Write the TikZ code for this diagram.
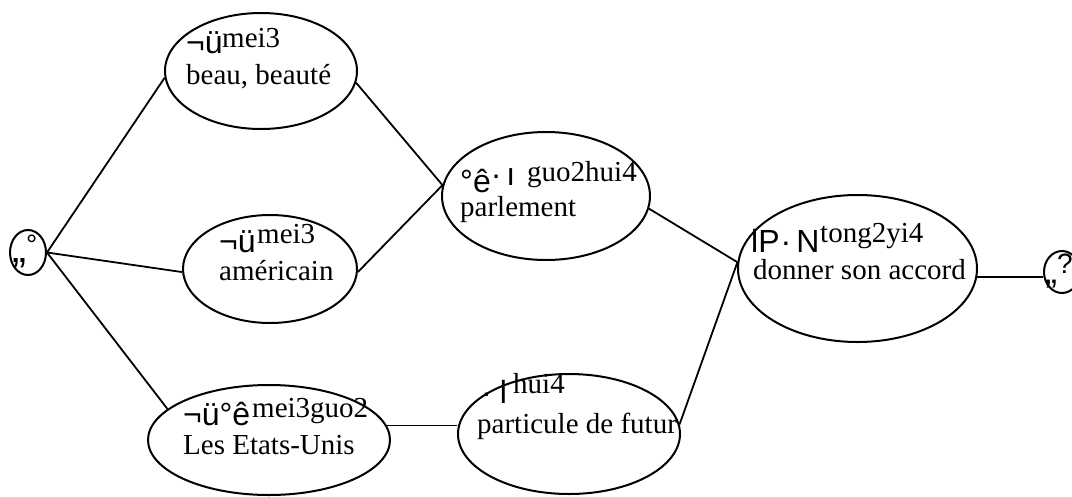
\documentclass[tikz,border=0pt]{standalone}
\usepackage{fontspec}
\setmainfont{Liberation Serif}
\newfontfamily\glyphfont{Liberation Sans}
\usetikzlibrary{shapes.geometric}
\begin{document}
\begin{tikzpicture}[x=1pt,y=-1pt,
  bubble/.style={draw, ellipse, line width=2pt, inner sep=0pt},
  link/.style={line width=1.8pt},
  gloss/.style={anchor=base west, inner sep=0pt, font=\fontsize{29}{29}\selectfont},
  pinyin/.style={gloss},
  code/.style={anchor=base west, inner sep=0pt, font=\glyphfont\fontsize{32}{32}\selectfont}]
\useasboundingbox (0,0) rectangle (1072,496);
\clip (0,0) rectangle (1072,496);

% ellipses
\node[bubble, minimum width=36pt,  minimum height=45pt]  (start)  at (28,252.5) {};
\node[bubble, minimum width=192pt, minimum height=116pt] (beau)   at (261,71) {};
\node[bubble, minimum width=174pt, minimum height=108pt] (amer)   at (270,269) {};
\node[bubble, minimum width=208pt, minimum height=128pt] (parl)   at (546,196) {};
\node[bubble, minimum width=242pt, minimum height=110pt] (etats)  at (269,440) {};
\node[bubble, minimum width=222pt, minimum height=120pt] (part)   at (569,434) {};
\node[bubble, minimum width=239pt, minimum height=147pt] (donner) at (857.5,268.5) {};
\node[bubble, minimum width=36pt,  minimum height=42pt]  (end)    at (1062,272) {};

% texts
\node[code] (start-c) at (12,262) {{\fontsize{42}{42}\selectfont „}\raisebox{8pt}{\fontsize{28}{28}\selectfont °}};
\node[code] (end-c) at (1045,283) {{\fontsize{36}{36}\selectfont „}\raisebox{10pt}{\fontsize{28}{28}\selectfont ?}};

\node[code]   (beau-c) at (186,53) {¬ü};
\node[pinyin] (beau-p) at (222,47) {mei3};
\node[gloss]  (beau-g) at (186,84) {beau, beauté};

\node[code]   (amer-c) at (219,252) {¬ü};
\node[pinyin] (amer-p) at (257,243) {mei3};
\node[gloss]  (amer-g) at (219,280) {américain};

\node[code]   (parl-c) at (460,192) {°ê\raisebox{7pt}{·\hspace{5pt}ı}};
\node[pinyin] (parl-p) at (527,181) {guo2hui4};
\node[gloss]  (parl-g) at (460,216) {parlement};

\node[code]   (etats-c) at (183,425) {¬ü°ê};
\node[pinyin] (etats-p) at (252,417) {mei3guo2};
\node[gloss]  (etats-g) at (183,454) {Les Etats-Unis};

\node[code]   (part-c) at (481,403) {·\hspace{8pt}l};
\node[pinyin] (part-p) at (513,393) {hui4};
\node[gloss]  (part-g) at (477,433) {particule de futur};

\node[code]   (donner-c) at (751,252) {lP\hspace{1pt}·\hspace{5pt}N};
\node[pinyin] (donner-p) at (820,242) {tong2yi4};
\node[gloss]  (donner-g) at (753,279) {donner son accord};

% connectors
\draw[link] (start.east) -- (beau.184);
\draw[link] (start.east) -- (amer.182);
\draw[link] (start.east) -- (etats.163);
\draw[link] (beau.-7) -- (parl.174);
\draw[link] (amer.-2) -- (parl.174);
\draw[link] (parl.-7) -- (donner.177);
\draw[link] (part.5) -- (donner.177);
\draw[link] (etats.7) -- (etats.7 -| part.west);
\draw[link] (donner.-4) -- (donner.-4 -| end.west);
\end{tikzpicture}
\end{document}
